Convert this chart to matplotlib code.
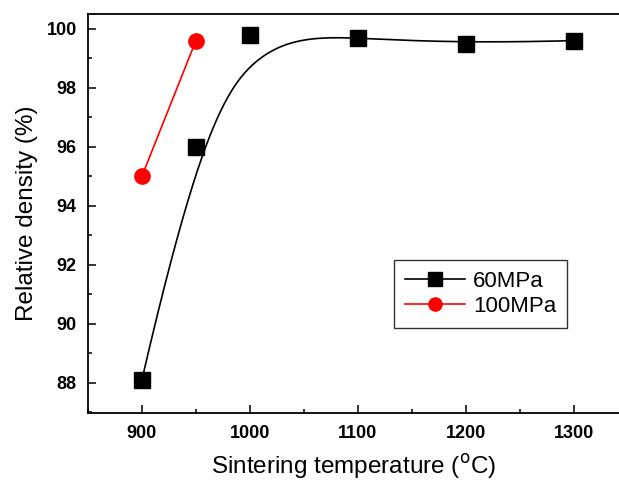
import numpy as np
import matplotlib
matplotlib.use("Agg")
import matplotlib.pyplot as plt
from matplotlib.ticker import MultipleLocator

plt.rcParams['font.family'] = ['Liberation Sans', 'DejaVu Sans']

# data
temp_60 = [900, 950, 1000, 1100, 1200, 1300]
dens_60 = [88.1, 96.0, 99.8, 99.7, 99.5, 99.6]
temp_100 = [900, 950]
dens_100 = [95.0, 99.6]


def bspline(px, py, npts=400):
    # clamped cubic B-spline using the data points as control points
    px = np.asarray(px, float)
    py = np.asarray(py, float)
    n = len(px)
    k = 3
    knots = np.concatenate([np.zeros(k), np.arange(n - k + 1), np.full(k, n - k)])
    t = np.linspace(0, n - k, npts)
    t[-1] -= 1e-9

    def basis(i, d, tt):
        if d == 0:
            return ((knots[i] <= tt) & (tt < knots[i + 1])).astype(float)
        out = np.zeros_like(tt)
        den1 = knots[i + d] - knots[i]
        den2 = knots[i + d + 1] - knots[i + 1]
        if den1 > 0:
            out += (tt - knots[i]) / den1 * basis(i, d - 1, tt)
        if den2 > 0:
            out += (knots[i + d + 1] - tt) / den2 * basis(i + 1, d - 1, tt)
        return out

    B = np.array([basis(i, k, t) for i in range(n)])
    return px @ B, py @ B


fig = plt.figure(figsize=(6.19, 4.84), dpi=100)
ax = fig.add_axes([0.142, 0.147, 0.858, 0.824])

sx, sy = bspline(temp_60, dens_60)
ax.plot(sx, sy, color='black', lw=1.2)
ax.plot(temp_60, dens_60, ls='none', marker='s', ms=11, color='black')
ax.plot(temp_100, dens_100, color='red', lw=1.2, marker='o', ms=11)

# legend handles
ax.plot([], [], color='black', lw=1.2, marker='s', ms=9.5, label='60MPa')
ax.plot([], [], color='red', lw=1.2, marker='o', ms=9.5, label='100MPa')
handles, labels = ax.get_legend_handles_labels()
leg = ax.legend(handles, labels, loc='upper left', bbox_to_anchor=(0.576, 0.384),
                fontsize=16, frameon=True, fancybox=False, edgecolor='black',
                handlelength=2.7, borderpad=0.5, labelspacing=0.2,
                handletextpad=0.36, borderaxespad=0)
leg.get_frame().set_linewidth(1.0)

ax.set_xlim(850, 1341.7)
ax.set_ylim(86.98, 100.5)
ax.xaxis.set_major_locator(MultipleLocator(100))
ax.xaxis.set_minor_locator(MultipleLocator(50))
ax.yaxis.set_major_locator(MultipleLocator(2))
ax.yaxis.set_minor_locator(MultipleLocator(1))
ax.tick_params(which='both', direction='in', top=False, right=False, width=1.1)
ax.tick_params(which='major', length=6, labelsize=13)
ax.tick_params(axis='x', which='major', pad=9)
ax.tick_params(axis='y', which='major', pad=8)
ax.tick_params(which='minor', length=3)
for lab in ax.get_xticklabels() + ax.get_yticklabels():
    lab.set_fontweight('bold')
for sp in ax.spines.values():
    sp.set_linewidth(1.3)
ax.spines['right'].set_visible(False)

ax.set_xlabel('Sintering temperature ($^{\\mathrm{o}}$C)', fontsize=17.5, labelpad=7)
ax.set_ylabel('Relative density (%)', fontsize=17.5, labelpad=6)

fig.savefig('out.png', dpi=100)
